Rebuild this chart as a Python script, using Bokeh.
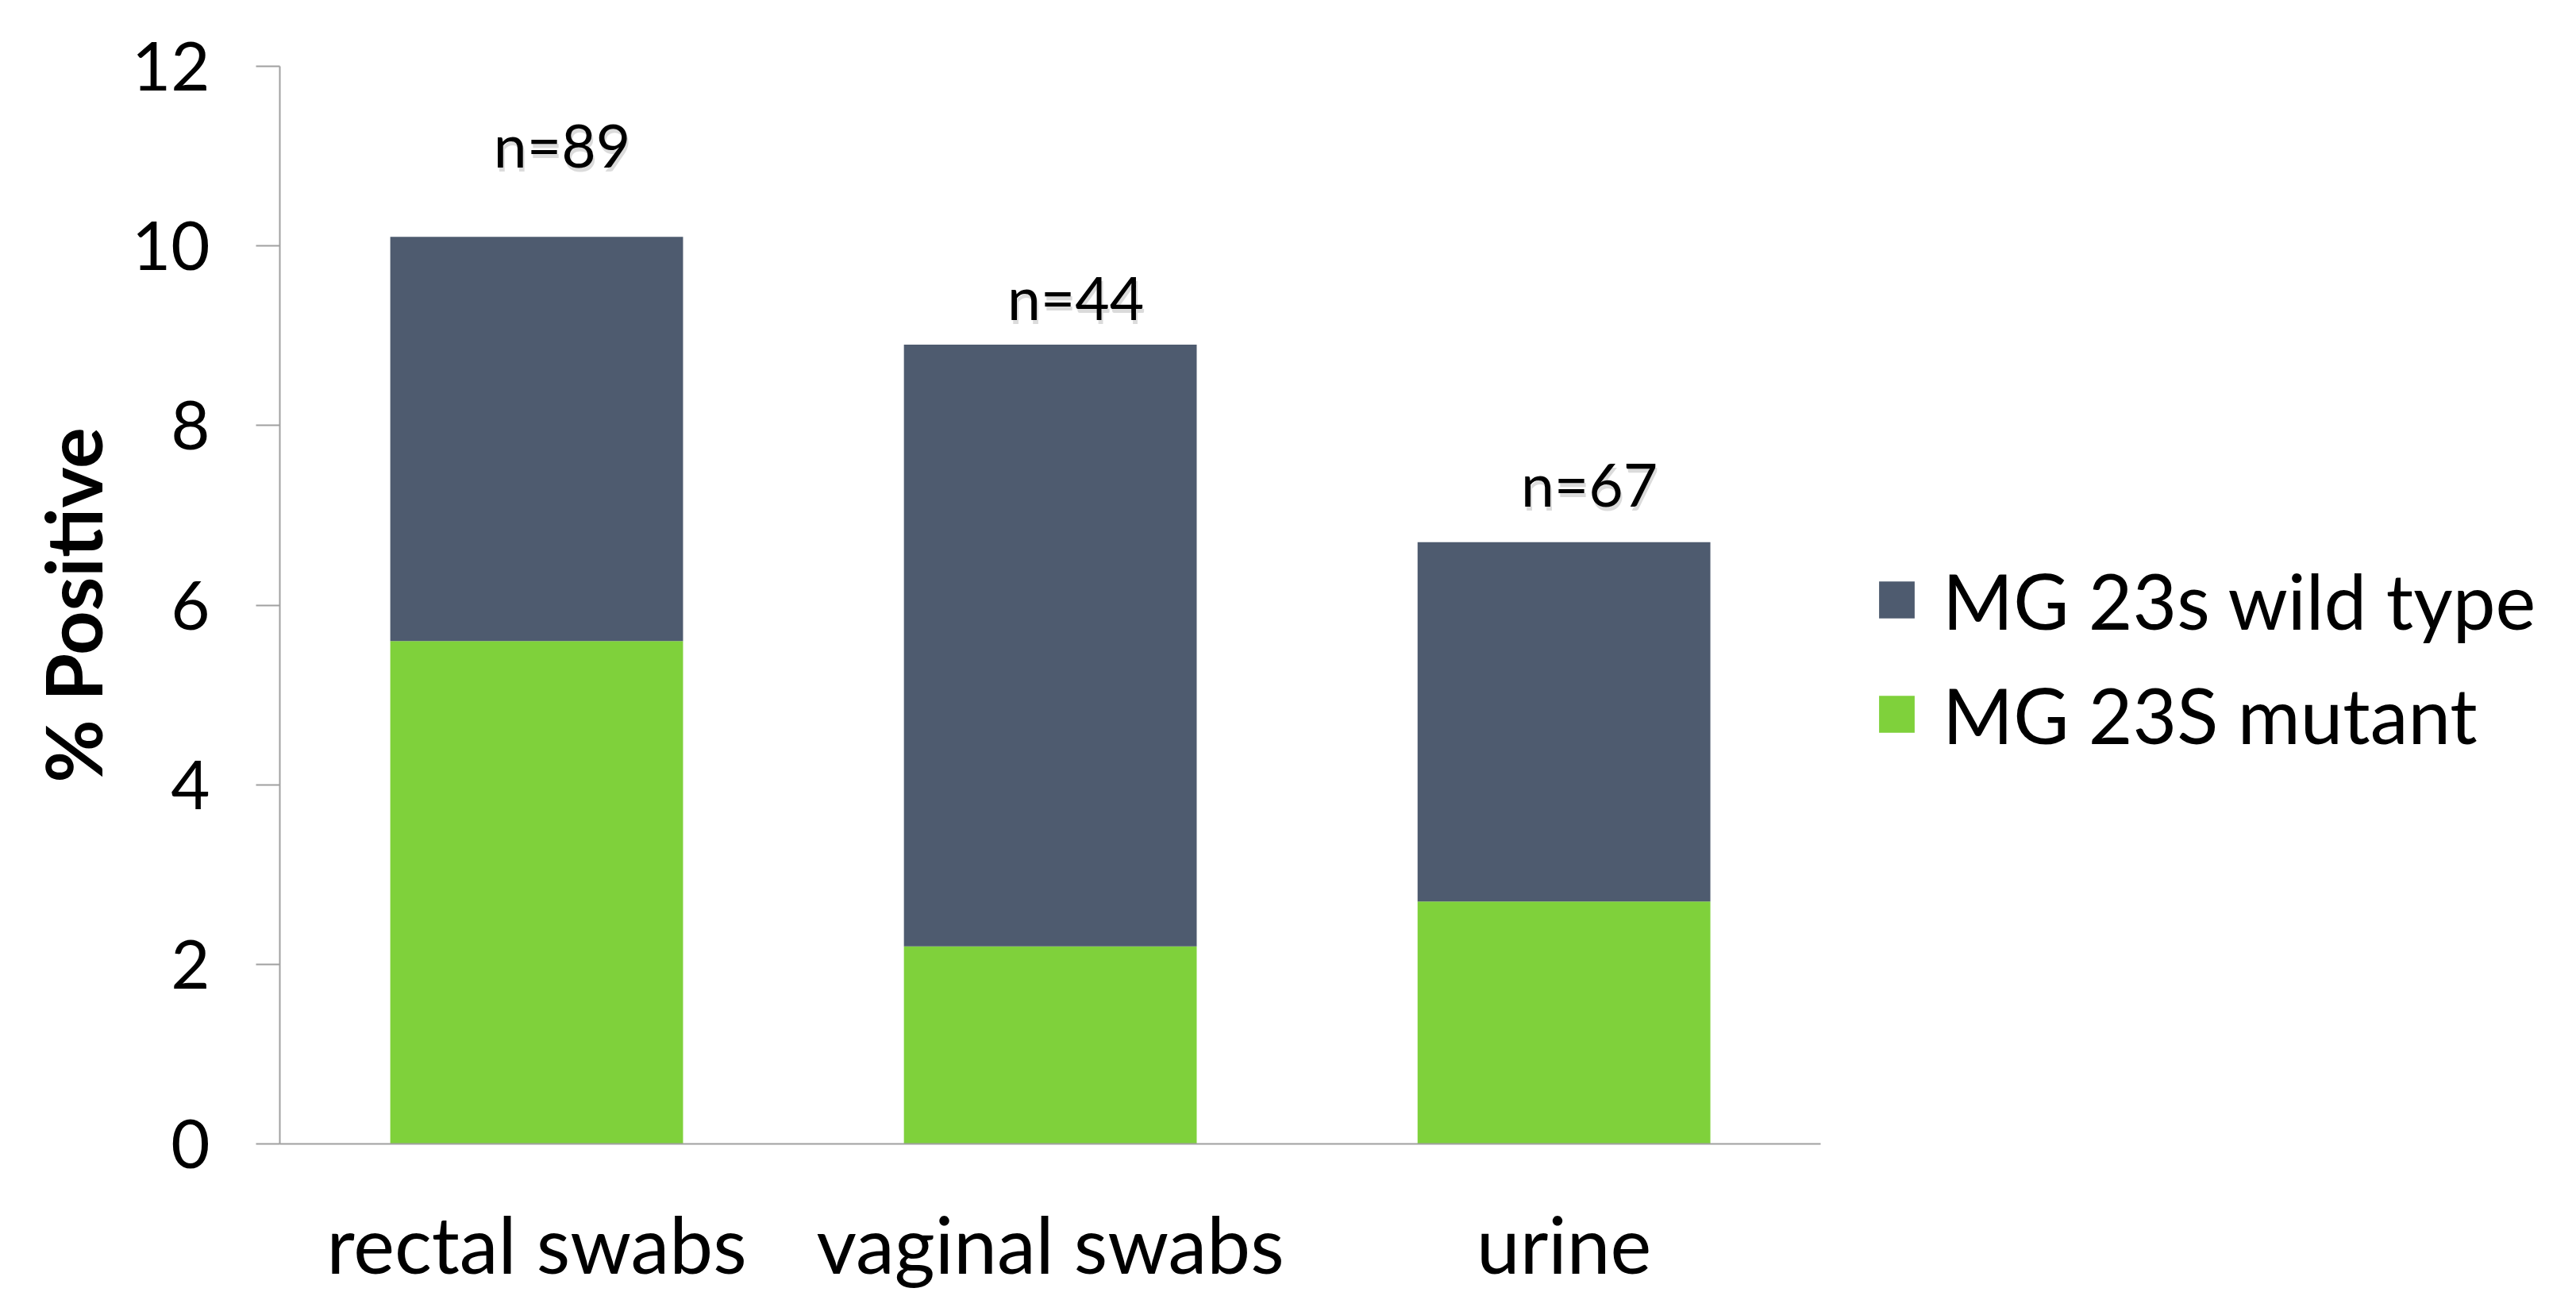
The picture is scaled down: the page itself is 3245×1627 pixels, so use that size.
from bokeh.plotting import figure
from bokeh.models import Range1d, Legend, LegendItem, ColumnDataSource, FixedTicker
from bokeh.core.properties import value
from bokeh.embed import file_html
from bokeh.resources import INLINE

# ---- data ----
categories = ["rectal swabs", "vaginal swabs", "urine"]
mutant = [5.6, 2.2, 2.7]          # MG 23S mutant (% positive)
wild_type = [4.5, 6.7, 4.0]       # MG 23s wild type (% positive)
n_labels = ["n=89", "n=44", "n=67"]
n_label_y = [10.9, 9.2, 7.12]     # baseline of the n= annotations (data units)
y_ticks = [0, 2, 4, 6, 8, 10, 12]

GREEN = "#7FD13B"
DARK = "#4E5B6F"
AXIS = "#A0A0A0"
FONT = "Lato"

# category slots on a numeric axis (slot i is centred at i + 0.5)
x_pos = [i + 0.5 for i in range(len(categories))]

source = ColumnDataSource(dict(x=x_pos, cat=categories, mutant=mutant, wild=wild_type,
                               lab=n_labels, laby=n_label_y))

# frame runs the full width so the legend can sit inside it; the category
# axis line itself is bounded to the three category slots
p = figure(x_range=Range1d(0, 4.471), y_range=Range1d(0, 12),
           width=3245, height=1627,
           output_backend="svg", toolbar_location=None,
           min_border_left=352, min_border_right=0,
           min_border_top=83, min_border_bottom=186)

rs = p.vbar_stack(["mutant", "wild"], x="x", width=0.57,
                  color=[GREEN, DARK], source=source, line_width=0)

# soft shadow + text for n= labels
p.text(x="x", y="laby", text="lab", source=source, text_align="center",
       text_baseline="alphabetic", text_font=value(FONT), text_font_size="75px",
       text_color="#888888", text_alpha=0.3, x_offset=34, y_offset=-21)
p.text(x="x", y="laby", text="lab", source=source, text_align="center",
       text_baseline="alphabetic", text_font=value(FONT), text_font_size="75px",
       text_color="black", x_offset=32, y_offset=-26)

p.xgrid.visible = False
p.ygrid.visible = False
p.outline_line_color = None

# y axis
ya = p.yaxis[0]
ya.ticker = FixedTicker(ticks=y_ticks)
ya.major_tick_out = 30
ya.major_tick_in = 0
ya.minor_tick_out = 0
ya.minor_tick_in = 0
ya.axis_line_color = AXIS
ya.axis_line_width = 2
ya.major_tick_line_color = AXIS
ya.major_tick_line_width = 2
ya.major_label_text_font = FONT
ya.major_label_text_font_size = "85px"
ya.major_label_text_color = "black"
ya.major_label_standoff = 58
ya.axis_label = "% Positive"
ya.axis_label_text_font = FONT
ya.axis_label_text_font_style = "bold"
ya.axis_label_text_font_size = "97px"
ya.axis_label_text_color = "black"
ya.axis_label_standoff = 13

# x axis (categories)
xa = p.xaxis[0]
xa.ticker = FixedTicker(ticks=x_pos, minor_ticks=[])
xa.major_label_overrides = {x: c for x, c in zip(x_pos, categories)}
xa.bounds = (0, len(categories))
xa.major_tick_out = 0
xa.major_tick_in = 0
xa.minor_tick_out = 0
xa.minor_tick_in = 0
xa.axis_line_color = AXIS
xa.axis_line_width = 2
xa.major_label_text_font = FONT
xa.major_label_text_font_size = "98px"
xa.major_label_text_color = "black"
xa.major_label_standoff = 66

legend = Legend(items=[LegendItem(label="MG 23s wild type", renderers=[rs[1]]),
                       LegendItem(label="MG 23S mutant", renderers=[rs[0]])],
                location=(2009, 481), glyph_width=56, glyph_height=58,
                label_standoff=30, label_text_font=FONT, label_text_font_size="96px",
                label_text_color="black", spacing=24, label_height=120,
                padding=0, margin=0, border_line_color=None,
                background_fill_alpha=0)
p.add_layout(legend)

open("out.html", "w").write(file_html(p, INLINE))
